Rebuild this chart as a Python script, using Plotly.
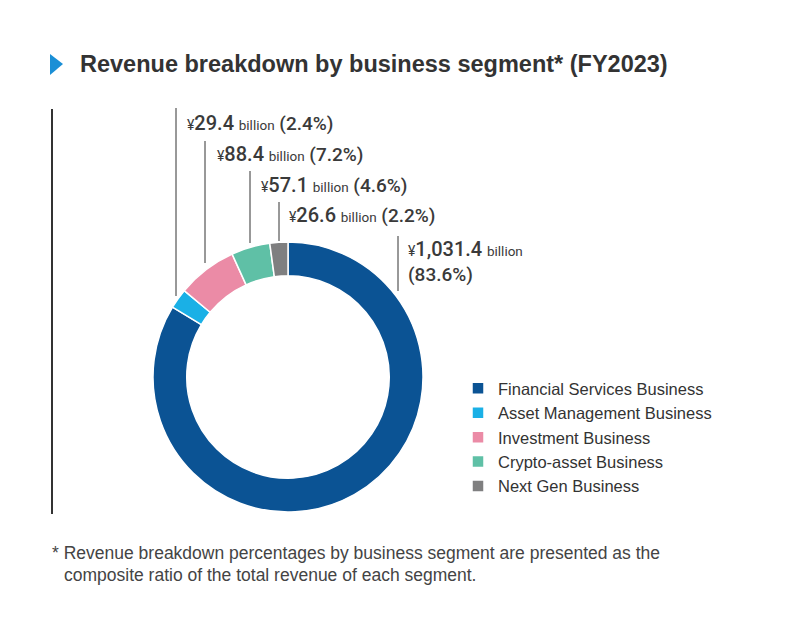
import plotly.graph_objects as go

segments = ["Financial Services Business", "Asset Management Business",
            "Investment Business", "Crypto-asset Business", "Next Gen Business"]
revenue_billion = [1031.4, 29.4, 88.4, 57.1, 26.6]
share_pct = [83.6, 2.4, 7.2, 4.6, 2.2]
colors = ["#0b5394", "#1ab0e6", "#eb8ba6", "#5fc0a6", "#7f7f80"]

title_text = "Revenue breakdown by business segment* (FY2023)"
footnote_lines = ["* Revenue breakdown percentages by business segment are presented as the",
                  "composite ratio of the total revenue of each segment."]

W, H = 800, 625
OFF = 8  # page body margin

def px(x):
    return (x - OFF) / W

def py(y):
    return 1 - (y - OFF) / H

fig = go.Figure()
fig.add_trace(go.Pie(
    labels=segments, values=revenue_billion, sort=False, direction="clockwise",
    rotation=0, hole=0.75, marker=dict(colors=colors, line=dict(color="white", width=1.5)),
    textinfo="none", hoverinfo="label+value+percent",
    domain=dict(x=[px(153), px(423)], y=[py(512), py(242)]),
))

label_font = "Roboto"
def lbl(v, p, br=False):
    return (f"<span style='font-size:14px'>¥</span>"
            f"<span style='font-size:20px;font-weight:500'>{v:,.1f}</span> "
            f"<span style='font-size:13.5px'>billion</span>"
            + ("<br>" if br else " ")
            + f"<span style='font-size:19px;font-weight:500'>({p}%)</span>")

annotations = []
pos = {1: (185, 123), 2: (215, 154), 3: (259, 185), 4: (287, 215)}
for i, (x, y) in pos.items():
    annotations.append(dict(x=px(x), y=py(y), xref="paper", yref="paper", xanchor="left",
                            yanchor="middle", showarrow=False,
                            text=lbl(revenue_billion[i], share_pct[i]),
                            font=dict(family=label_font, size=19, color="#3a3a3a")))
annotations.append(dict(x=px(406), y=py(261), xref="paper", yref="paper", xanchor="left",
                        yanchor="middle", showarrow=False, align="left",
                        text=lbl(revenue_billion[0], share_pct[0], br=True),
                        font=dict(family=label_font, size=19, color="#3a3a3a")))
annotations.append(dict(x=px(78), y=py(64), xref="paper", yref="paper", xanchor="left",
                        yanchor="middle", showarrow=False, text=f"<b>{title_text}</b>",
                        font=dict(family="Liberation Sans", size=23.5, color="#333333")))
annotations.append(dict(x=px(50), y=py(553), xref="paper", yref="paper", xanchor="left",
                        yanchor="middle", showarrow=False, text=footnote_lines[0],
                        font=dict(family="Liberation Sans", size=17.5, color="#444444")))
annotations.append(dict(x=px(62), y=py(575), xref="paper", yref="paper", xanchor="left",
                        yanchor="middle", showarrow=False, text=footnote_lines[1],
                        font=dict(family="Liberation Sans", size=17.5, color="#444444")))

shapes = [
    dict(type="path", xref="paper", yref="paper",
         path=f"M {px(50)} {py(54)} L {px(63)} {py(64)} L {px(50)} {py(75)} Z",
         fillcolor="#1a8fd6", line=dict(width=0)),
    dict(type="line", xref="paper", yref="paper", x0=px(52), x1=px(52), y0=py(109), y1=py(514),
         line=dict(color="#333333", width=2)),
]
leaders = [(176, 108, 296), (205, 141, 263), (250, 171, 243), (279, 202, 241), (398, 236, 291)]
for x, y0, y1 in leaders:
    shapes.append(dict(type="line", xref="paper", yref="paper", x0=px(x), x1=px(x),
                       y0=py(y0), y1=py(y1), line=dict(color="#333333", width=1)))

fig.update_layout(
    width=W, height=H, margin=dict(l=0, r=0, t=0, b=0),
    paper_bgcolor="white", plot_bgcolor="white",
    showlegend=True,
    legend=dict(x=px(458), y=py(371), xanchor="left", yanchor="top",
                font=dict(family="Liberation Sans", size=16.5, color="#333333"),
                itemwidth=30, tracegroupgap=0, bgcolor="rgba(0,0,0,0)"),
    annotations=annotations, shapes=shapes,
)

fig.write_html("out.html")
